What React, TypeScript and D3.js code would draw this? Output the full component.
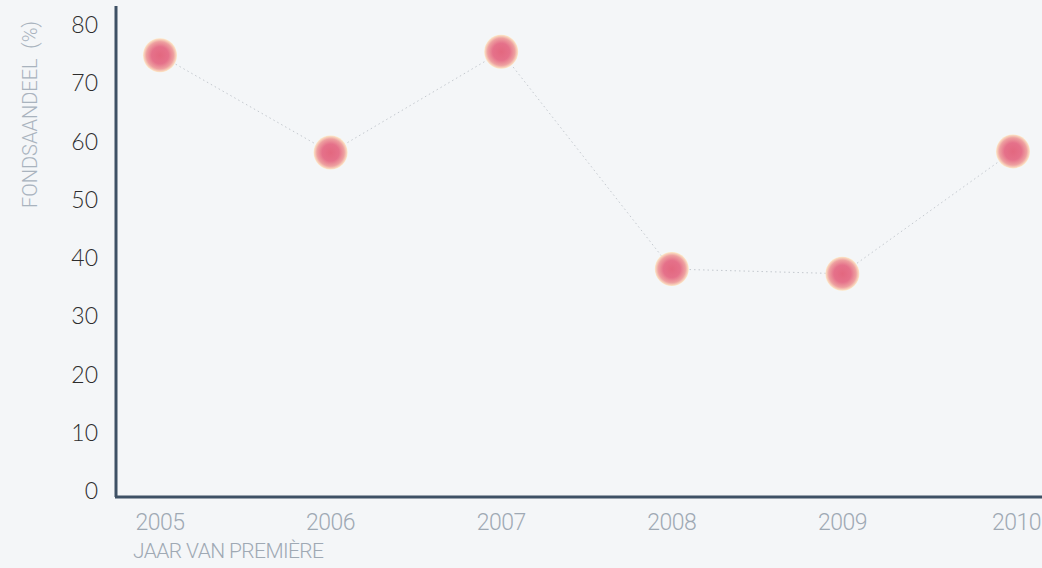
import React, { useEffect, useRef } from 'react';
import * as d3 from 'd3';

const years = [2005, 2006, 2007, 2008, 2009, 2010];
const shares = [74.8, 58.1, 75.4, 38.1, 37.3, 58.3];
const yTicks = [0, 10, 20, 30, 40, 50, 60, 70, 80];

const App: React.FC = () => {
    const svgRef = useRef<SVGSVGElement>(null);
    const width = 1042;
    const height = 568;

    useEffect(() => {
        if (!svgRef.current) return;
        const svg = d3.select(svgRef.current);
        svg.selectAll('*').remove();

        svg.append('rect')
            .attr('width', width)
            .attr('height', height)
            .attr('fill', '#f4f6f8');

        const x = d3.scaleLinear().domain([2005, 2010]).range([160, 1013]);
        const y = d3.scaleLinear().domain([0, 80]).range([491, 25]);

        // gradient for the dots
        const defs = svg.append('defs');
        const grad = defs.append('radialGradient').attr('id', 'dot');
        grad.append('stop').attr('offset', '0%').attr('stop-color', '#e3677f');
        grad.append('stop').attr('offset', '50%').attr('stop-color', '#e5718a');
        grad.append('stop').attr('offset', '80%').attr('stop-color', '#eea0a0');
        grad.append('stop').attr('offset', '100%').attr('stop-color', '#fde9c8');

        // axes lines
        svg.append('line')
            .attr('x1', 116).attr('x2', 116)
            .attr('y1', 6).attr('y2', 497)
            .attr('stroke', '#3e5165').attr('stroke-width', 3);
        svg.append('line')
            .attr('x1', 115).attr('x2', width)
            .attr('y1', 497).attr('y2', 497)
            .attr('stroke', '#3e5165').attr('stroke-width', 3);

        // y tick labels
        svg.append('g')
            .selectAll('text')
            .data(yTicks)
            .enter()
            .append('text')
            .attr('x', 98)
            .attr('y', d => y(d))
            .attr('dy', '0.35em')
            .attr('text-anchor', 'end')
            .attr('font-family', 'Lato, sans-serif')
            .attr('font-weight', 300)
            .attr('font-size', 23)
            .attr('fill', '#2d2d2d')
            .text(d => d);

        // x tick labels
        svg.append('g')
            .selectAll('text')
            .data(years)
            .enter()
            .append('text')
            .attr('x', d => d === 2010 ? 1041 : x(d))
            .attr('y', 522)
            .attr('dy', '0.35em')
            .attr('text-anchor', d => d === 2010 ? 'end' : 'middle')
            .attr('font-family', 'Roboto, sans-serif')
            .attr('font-weight', 300)
            .attr('font-size', 23)
            .attr('letter-spacing', -0.5)
            .attr('fill', '#9fa9b4')
            .text(d => d);

        // axis titles
        svg.append('text')
            .attr('x', 133)
            .attr('y', 551)
            .attr('dy', '0.35em')
            .attr('font-family', 'Roboto, sans-serif')
            .attr('font-weight', 300)
            .attr('font-size', 21)
            .attr('letter-spacing', -0.6)
            .attr('fill', '#9fa9b4')
            .text('JAAR VAN PREMIÈRE');

        svg.append('text')
            .attr('transform', 'translate(30, 208) rotate(-90)')
            .attr('dy', '0.35em')
            .attr('font-family', 'Roboto, sans-serif')
            .attr('font-weight', 300)
            .attr('font-size', 20)
            .attr('fill', '#a9b3be')
            .attr('xml:space', 'preserve')
            .text('FONDSAANDEEL  (%)');

        const pts = years.map((yr, i) => ({ yr, v: shares[i] }));

        const line = d3.line<{ yr: number; v: number }>()
            .x(d => x(d.yr))
            .y(d => y(d.v));

        svg.append('path')
            .datum(pts)
            .attr('d', line)
            .attr('fill', 'none')
            .attr('stroke', '#c4c9cf')
            .attr('stroke-width', 1)
            .attr('stroke-dasharray', '1.5,3');

        svg.append('g')
            .selectAll('circle')
            .data(pts)
            .enter()
            .append('circle')
            .attr('cx', d => x(d.yr))
            .attr('cy', d => y(d.v))
            .attr('r', 17)
            .attr('fill', 'url(#dot)');
    }, []);

    return (
        <svg
            ref={svgRef}
            width={width}
            height={height}
            style={{ position: 'absolute', left: 0, top: 0, display: 'block' }}
        />
    );
};

export default App;
